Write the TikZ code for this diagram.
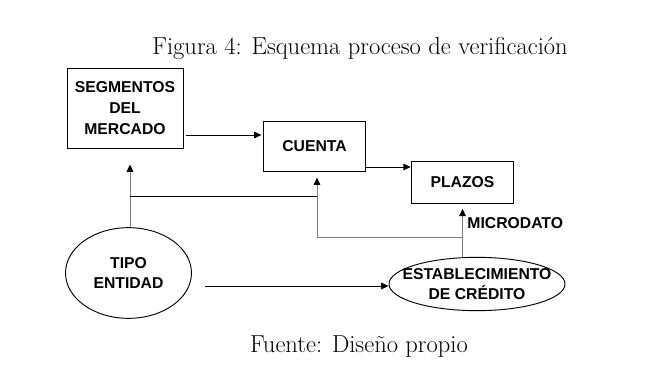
\documentclass[tikz,border=0pt]{standalone}
\usepackage{fontspec}
\newfontfamily\arial{Liberation Sans}
\usetikzlibrary{arrows.meta,positioning,calc,shapes.geometric}
\tikzset{box/.style={draw,line width=.7pt,align=center,inner sep=2pt,font=\arial\bfseries\fontsize{11.8}{15.5}\selectfont},
 elli/.style={box,ellipse,inner xsep=-12pt,inner ysep=-3pt},
 wire/.style={line width=.7pt},
 arr/.style={wire,-{Triangle[length=5.5pt,width=5pt]}},
 garr/.style={arr,draw=black!50,-{Triangle[length=5.5pt,width=5pt,color=black]}},
 captxt/.style={font=\fontsize{18.4}{22}\selectfont}}
\begin{document}
\begin{tikzpicture}[x=.75pt,y=-.75pt]
\useasboundingbox (0,0) rectangle (657,374);
\node[captxt] (title) at (360,48) {Figura 4: Esquema proceso de verificación};
\node[box,minimum width=87pt,minimum height=60pt] (seg) at (125,108) {SEGMENTOS\\DEL\\MERCADO};
\node[box,minimum width=77pt,minimum height=38pt] (cuenta) at (314.5,146.5) {CUENTA};
\node[box,minimum width=77pt,minimum height=31.5pt] (plazos) at (462.5,182) {PLAZOS};
\node[elli,minimum width=94.5pt,minimum height=68pt] (tipo) at (128.5,273) {TIPO\\ENTIDAD};
\node[elli,minimum width=132pt,minimum height=40pt] (estab) at (477,284) {ESTABLECIMIENTO\\DE CRÉDITO};
\node[box,draw=none,anchor=west,inner sep=0pt] (micro) at (467,223) {MICRODATO};
\coordinate (jl) at (130,196);
\coordinate (jr) at (317,196);
\coordinate (bend) at (462.5,237);
% flechas
\draw[arr,shorten <=2pt,shorten >=1pt] (seg.east|-0,135) -- (cuenta.west|-0,135);
\draw[arr] (cuenta.east|-0,167) -- (plazos.west|-0,167);
\draw[arr,shorten <=10pt] (tipo.east|-0,286) -- (estab.west|-0,286);
\draw[garr,shorten >=12pt] (jl|-tipo.north) -- (jl|-seg.south);
\draw[wire] (jl) -- (jr);
\draw[garr,shorten >=4pt] (estab.north-|plazos.south) -- (plazos.south);
\draw[garr,shorten >=4pt] (bend) -| (jr|-cuenta.south);
\node[captxt] (fuente) at (359,347) {Fuente: Diseño propio};
\end{tikzpicture}
\end{document}
